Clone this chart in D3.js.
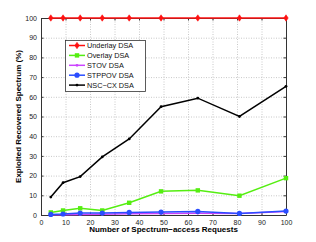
<!DOCTYPE html>
<html>
<head>
<meta charset="utf-8">
<script src="https://cdn.jsdelivr.net/npm/d3@7"></script>
<style>
  html, body { margin: 0; padding: 0; background: #fff; }
  svg { display: block; font-family: "Liberation Sans", Arial, sans-serif; }
  .axis path, .axis line { stroke: #333; }
  .axis text { fill: #222; font-size: 7px; }
  .grid line { stroke: #c8c8c8; stroke-dasharray: 1,1.5; }
  .grid path { display: none; }
</style>
</head>
<body>
<div id="chart"></div>
<script>
// x values: number of spectrum-access requests
const requests = [4, 9, 16, 25, 36, 49, 64, 81, 100];
const underlay = [100, 100, 100, 100, 100, 100, 100, 100, 100];
const overlay = [1.3, 2.3, 3.4, 2.3, 6.2, 12.0, 12.5, 9.8, 18.7];
const stov = [0.1, 0.1, 0.3, 0.4, 0.6, 0.7, 0.9, 0.8, 1.8];
const stppov = [0.3, 0.5, 1.0, 1.0, 1.3, 1.5, 1.8, 0.8, 2.0];
const nsccx = [9.1, 16.4, 19.5, 29.5, 38.6, 55.0, 59.3, 50.0, 65.3];
const xTicks = [0, 10, 20, 30, 40, 50, 60, 70, 80, 90, 100];
const yTicks = [0, 10, 20, 30, 40, 50, 60, 70, 80, 90, 100];

const series = [
  { name: 'Underlay DSA', values: underlay, color: '#ff1010', marker: 'diamond' },
  { name: 'Overlay DSA', values: overlay, color: '#55ee11', marker: 'square' },
  { name: 'STOV DSA', values: stov, color: '#cc44ff', marker: 'dot' },
  { name: 'STPPOV DSA', values: stppov, color: '#2a4dff', marker: 'circle' },
  { name: 'NSC\u2212CX DSA', values: nsccx, color: '#000000', marker: 'dot' }
];

const W = 316, H = 242;
const svg = d3.select('#chart').append('svg').attr('width', W).attr('height', H);

const x = d3.scaleLinear().domain([0, 100]).range([41, 286]);
const y = d3.scaleLinear().domain([0, 100]).range([215, 18]);

// grid
svg.append('g').attr('class', 'grid')
  .attr('transform', `translate(0,${y(0)})`)
  .call(d3.axisBottom(x).tickValues(xTicks.slice(1, -1)).tickSize(-(y(0) - y(100))).tickFormat(''));
svg.append('g').attr('class', 'grid')
  .attr('transform', `translate(${x(0)},0)`)
  .call(d3.axisLeft(y).tickValues(yTicks.slice(1, -1)).tickSize(-(x(100) - x(0))).tickFormat(''));

// box + axes (MATLAB style, ticks inward)
svg.append('g').attr('class', 'axis')
  .attr('transform', `translate(0,${y(0)})`)
  .call(d3.axisBottom(x).tickValues(xTicks).tickSize(-2.5).tickPadding(5).tickSizeOuter(0));
svg.append('g').attr('class', 'axis')
  .attr('transform', `translate(${x(0)},0)`)
  .call(d3.axisLeft(y).tickValues(yTicks).tickSize(-2.5).tickPadding(4).tickSizeOuter(0));
svg.append('g').attr('class', 'axis')
  .attr('transform', `translate(0,${y(100)})`)
  .call(d3.axisTop(x).tickValues(xTicks).tickSize(-2.5).tickFormat('').tickSizeOuter(0));
svg.append('g').attr('class', 'axis')
  .attr('transform', `translate(${x(100)},0)`)
  .call(d3.axisRight(y).tickValues(yTicks).tickSize(-2.5).tickFormat('').tickSizeOuter(0));

const line = d3.line().x((d, i) => x(requests[i])).y(d => y(d));

function drawMarker(g, type, cx, cy, color) {
  if (type === 'diamond') {
    g.append('path')
      .attr('d', `M${cx},${cy - 3.2}L${cx + 2.2},${cy}L${cx},${cy + 3.2}L${cx - 2.2},${cy}Z`)
      .attr('fill', color).attr('stroke', color).attr('stroke-width', 0.6);
  } else if (type === 'square') {
    g.append('rect').attr('x', cx - 2.2).attr('y', cy - 2.2).attr('width', 4.4).attr('height', 4.4)
      .attr('fill', color);
  } else if (type === 'circle') {
    g.append('circle').attr('cx', cx).attr('cy', cy).attr('r', 2.6).attr('fill', color);
  } else {
    g.append('circle').attr('cx', cx).attr('cy', cy).attr('r', 1.4).attr('fill', color);
  }
}

series.forEach(s => {
  const g = svg.append('g');
  g.append('path').datum(s.values)
    .attr('d', line).attr('fill', 'none')
    .attr('stroke', s.color).attr('stroke-width', 1.5);
  s.values.forEach((v, i) => drawMarker(g, s.marker, x(requests[i]), y(v), s.color));
});

// legend
const lg = svg.append('g');
lg.append('rect').attr('x', 65.5).attr('y', 40.5).attr('width', 80).attr('height', 51)
  .attr('fill', '#fff').attr('stroke', '#333').attr('stroke-width', 0.8);
series.forEach((s, i) => {
  const ly = 45.5 + i * 9.9;
  lg.append('line').attr('x1', 69).attr('x2', 85).attr('y1', ly).attr('y2', ly)
    .attr('stroke', s.color).attr('stroke-width', 1.5);
  drawMarker(lg, s.marker, 77, ly, s.color);
  lg.append('text').attr('x', 87).attr('y', ly + 2.6)
    .attr('font-size', '7.3px').attr('fill', '#111').text(s.name);
});

// axis titles
svg.append('text')
  .attr('x', (x(0) + x(100)) / 2).attr('y', 232)
  .attr('text-anchor', 'middle').attr('font-size', '8px').attr('font-weight', 'bold')
  .text('Number of Spectrum\u2212access Requests');
svg.append('text')
  .attr('transform', `translate(21,${(y(0) + y(100)) / 2}) rotate(-90)`)
  .attr('text-anchor', 'middle').attr('font-size', '8px').attr('font-weight', 'bold')
  .text('Exploited Recovered Spectrum (%)');
</script>
</body>
</html>
